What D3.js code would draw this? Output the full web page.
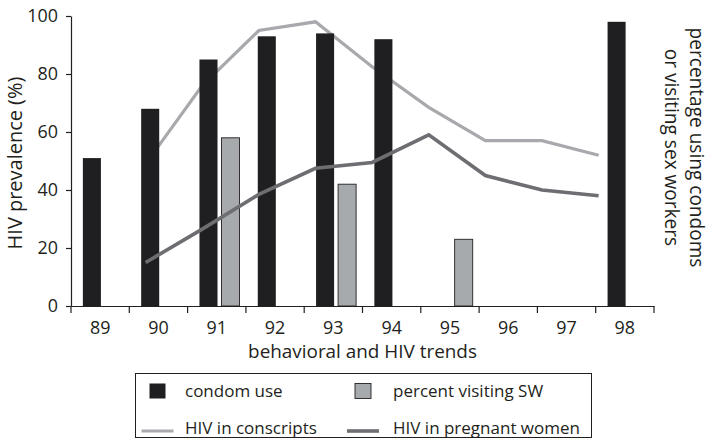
<!DOCTYPE html>
<html><head><meta charset="utf-8">
<script src="https://cdn.jsdelivr.net/npm/d3@7"></script>
<style>
html,body{margin:0;padding:0;background:#fff;}
svg{display:block;font-family:"Open Sans",sans-serif;}
</style></head>
<body><svg id="c" width="711" height="439"></svg>
<script>
const years = ["89","90","91","92","93","94","95","96","97","98"];
const condomUse = [51, 68, 85, 93, 94, 92, null, null, null, 98];
const visitingSW = [null, null, 58, null, 42, null, 23, null, null, null];
const lineYears = [90, 91, 92, 93, 94, 95, 96, 97, 98];
const hivConscripts = [49, 76, 95, 98, 82.5, 68.5, 57, 57, 52];
const hivPregnant = [15, 26.5, 38.5, 47.5, 49.5, 59, 45, 40, 38];
const yTicks = [0, 20, 40, 60, 80, 100];

const C = {black:"#1f1f22", gray:"#a7aaad", light:"#a7a9ac", dark:"#6d6e71", text:"#231f20"};
const FS = 17.5;
const svg = d3.select("#c");
const L = 71, R = 654, T = 16, B = 306;

// scale a text's font so its rendered width matches a target width
function fitSize(node, target) {
  const w = node.getComputedTextLength();
  const fs = parseFloat(node.getAttribute("font-size"));
  return fs * target / w;
}

const x = d3.scaleBand().domain(years).range([L, R]).padding(0);
const bw = x.bandwidth();
const sub = d3.scaleBand().domain(["condom","sw"]).range([0, bw])
  .paddingInner(0.18).paddingOuter(0.415).align(0.65);
const y = d3.scaleLinear().domain([0, 100]).range([B, T]);
const lx = d3.scaleLinear().domain([90, 98]).range([x("90") + bw * 0.28, x("98") + bw * 0.05]);

const line = d3.line().x((d, i) => lx(lineYears[i])).y(d => y(d));

// light line behind bars
svg.append("path").datum(hivConscripts).attr("d", line)
  .attr("fill", "none").attr("stroke", C.light).attr("stroke-width", 3.2);

const barData = [];
years.forEach((yr, i) => {
  if (condomUse[i] != null) barData.push({yr, key:"condom", v:condomUse[i]});
  if (visitingSW[i] != null) barData.push({yr, key:"sw", v:visitingSW[i]});
});
svg.append("g").selectAll("rect").data(barData).join("rect")
  .attr("x", d => x(d.yr) + sub(d.key))
  .attr("width", sub.bandwidth())
  .attr("y", d => y(d.v))
  .attr("height", d => y(0) - y(d.v))
  .attr("fill", d => d.key === "condom" ? C.black : C.gray)
  .attr("stroke", d => d.key === "condom" ? "none" : C.text)
  .attr("stroke-width", 0.9);

svg.append("path").datum(hivPregnant).attr("d", line)
  .attr("fill", "none").attr("stroke", C.dark).attr("stroke-width", 3.6);

// axes
const yAxis = svg.append("g").attr("transform", `translate(${L},0)`)
  .call(d3.axisLeft(y).tickValues(yTicks).tickSize(5).tickPadding(8).tickSizeOuter(0));
const xAxis = svg.append("g").attr("transform", `translate(0,${B})`)
  .call(d3.axisBottom(x).tickSize(0).tickPadding(14));
const bounds = years.map(yr => x(yr)).concat([R]);
xAxis.selectAll("line.bt").data(bounds).join("line").attr("class","bt")
  .attr("x1", d => d).attr("x2", d => d).attr("y1", 0).attr("y2", 7)
  .attr("stroke", C.text).attr("stroke-width", 1.2);
[yAxis, xAxis].forEach(g => {
  g.select(".domain").attr("stroke", C.text).attr("stroke-width", 1.2);
  g.selectAll(".tick line").attr("stroke", C.text).attr("stroke-width", 1.2);
  g.selectAll("text").attr("font-size", FS).attr("fill", C.text).attr("font-family", '"Open Sans",sans-serif');
});
const tickFS = fitSize(xAxis.select(".tick text").node(), 20.5);
yAxis.selectAll("text").attr("font-size", tickFS);
xAxis.selectAll(".tick text").attr("font-size", tickFS).attr("y", 28).attr("dy", null);

// titles
const yt = svg.append("text").attr("transform", `translate(22,${163}) rotate(-90)`)
  .attr("text-anchor", "middle").attr("font-size", FS).attr("fill", C.text)
  .text("HIV prevalence (%)");
yt.attr("font-size", fitSize(yt.node(), 173));
const xt = svg.append("text").attr("x", (L + R) / 2).attr("y", 357.5)
  .attr("text-anchor", "middle").attr("font-size", FS).attr("fill", C.text)
  .text("behavioral and HIV trends");
xt.attr("font-size", fitSize(xt.node(), 229));
const rt = svg.append("g").attr("transform", `translate(689.5,147.5) rotate(90)`);
const r1 = rt.append("text").attr("text-anchor", "middle").attr("font-size", FS).attr("fill", C.text)
  .text("percentage using condoms");
const rFS = fitSize(r1.node(), 240);
r1.attr("font-size", rFS);
rt.append("text").attr("y", 24.5).attr("text-anchor", "middle").attr("font-size", rFS).attr("fill", C.text)
  .text("or visiting sex workers");

// legend
const lg = svg.append("g");
lg.append("rect").attr("x", 135.5).attr("y", 373.5).attr("width", 456).attr("height", 64)
  .attr("fill", "#fff").attr("stroke", C.text).attr("stroke-width", 1);
const items = [
  {type:"rect", fill:C.black, stroke:"none", label:"condom use", col:0, row:0},
  {type:"rect", fill:C.gray, stroke:C.text, label:"percent visiting SW", col:1, row:0},
  {type:"line", color:C.light, w:3.2, label:"HIV in conscripts", col:0, row:1},
  {type:"line", color:C.dark, w:3.6, label:"HIV in pregnant women", col:1, row:1}
];
const colSymX = [157.5, 363], colTextX = [185, 393], rowY = [391, 428];
const legTexts = [];
items.forEach(it => {
  const cy = rowY[it.row], cx = colSymX[it.col];
  if (it.type === "rect") {
    lg.append("rect").attr("x", cx - 8).attr("y", cy - 7.5).attr("width", 16).attr("height", 15)
      .attr("fill", it.fill).attr("stroke", it.stroke).attr("stroke-width", 0.9);
  } else {
    lg.append("line").attr("x1", cx - 16).attr("x2", cx + 16).attr("y1", cy + 3).attr("y2", cy + 3)
      .attr("stroke", it.color).attr("stroke-width", it.w);
  }
  legTexts.push(lg.append("text").attr("x", colTextX[it.col]).attr("y", cy).attr("dy", "0.35em")
    .attr("font-size", FS).attr("fill", C.text).text(it.label));
});
const legFS = fitSize(legTexts[3].node(), 187);
legTexts.forEach(t => t.attr("font-size", legFS));
</script></body></html>
